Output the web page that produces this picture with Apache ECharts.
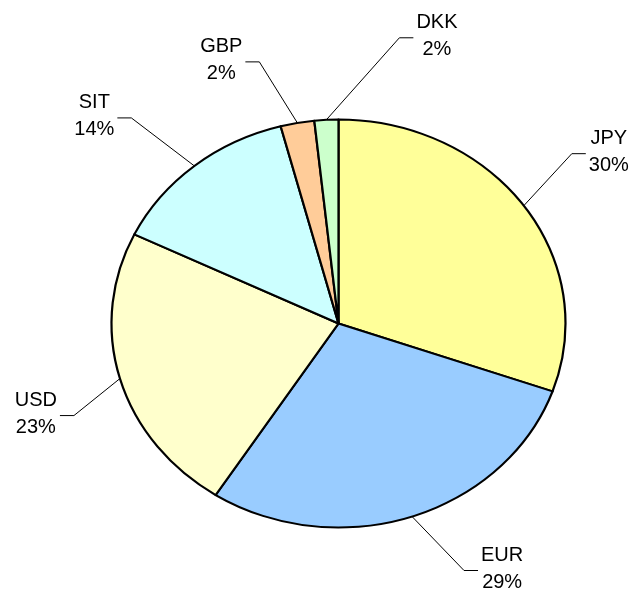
<!DOCTYPE html>
<html>
<head>
<meta charset="utf-8">
<script src="https://cdn.jsdelivr.net/npm/echarts@6/dist/echarts.min.js"></script>
<style>
  html, body { margin: 0; padding: 0; background: #fff; }
  #pie { width: 635px; height: 594px; }
</style>
</head>
<body>
<div id="pie"></div>
<script>
  // currency shares, clockwise from 12 o'clock
  var categories = ['JPY', 'EUR', 'USD', 'SIT', 'GBP', 'DKK'];
  var shares = [30.4, 28.7, 23.1, 13.7, 2.4, 1.7];
  var colors = ['#ffff99', '#99ccff', '#ffffcc', '#ccffff', '#ffcc99', '#ccffcc'];

  // leader line bend, relative to the slice edge (label layout only)
  var leaderBend = [[48, -52], [52, 54], [-46, 37], [-63, -48], [-38, -61], [73, -82]];

  var total = shares.reduce(function (a, b) { return a + b; }, 0);
  var cum = [0];
  shares.forEach(function (v, i) { cum.push(cum[i] + v); });

  var font = '20px "Liberation Sans", Arial, sans-serif';
  var ctx = document.createElement('canvas').getContext('2d');
  ctx.font = font;

  var cx = 338.5, cy = 323.5, rx = 227, ry = 204;

  var myChart = echarts.init(document.getElementById('pie'));
  myChart.setOption({
    backgroundColor: '#fff',
    animation: false,
    series: [{
      type: 'custom',
      coordinateSystem: 'none',
      data: shares.map(function (v, i) { return { name: categories[i], value: v }; }),
      renderItem: function (params, api) {
        var i = params.dataIndex;
        var a0 = -Math.PI / 2 + cum[i] / total * Math.PI * 2;
        var a1 = -Math.PI / 2 + cum[i + 1] / total * Math.PI * 2;
        var mid = (a0 + a1) / 2;
        var ex = cx + rx * Math.cos(mid), ey = cy + ry * Math.sin(mid);
        var bx = ex + leaderBend[i][0], by = ey + leaderBend[i][1];
        var side = leaderBend[i][0] > 0 ? 1 : -1;
        var endX = bx + side * 14;
        var pct = Math.round(api.value(0) / total * 100) + '%';
        var halfW = Math.max(ctx.measureText(categories[i]).width, ctx.measureText(pct).width) / 2;
        return {
          type: 'group',
          children: [{
            type: 'sector',
            shape: { cx: cx, cy: cy, r: ry, r0: 0, startAngle: a0, endAngle: a1, clockwise: true },
            originX: cx,
            originY: cy,
            scaleX: rx / ry,
            style: { fill: colors[i], stroke: '#000', lineWidth: 2, strokeNoScale: true, lineJoin: 'round' }
          }, {
            type: 'polyline',
            shape: { points: [[ex, ey], [bx, by], [endX, by]] },
            style: { fill: null, stroke: '#000', lineWidth: 1 }
          }, {
            type: 'text',
            x: endX + side * (3 + halfW),
            y: by - 2,
            style: {
              text: categories[i] + '\n' + pct,
              font: font,
              fill: '#000',
              align: 'center',
              verticalAlign: 'middle',
              lineHeight: 27
            }
          }]
        };
      }
    }]
  });
</script>
</body>
</html>
